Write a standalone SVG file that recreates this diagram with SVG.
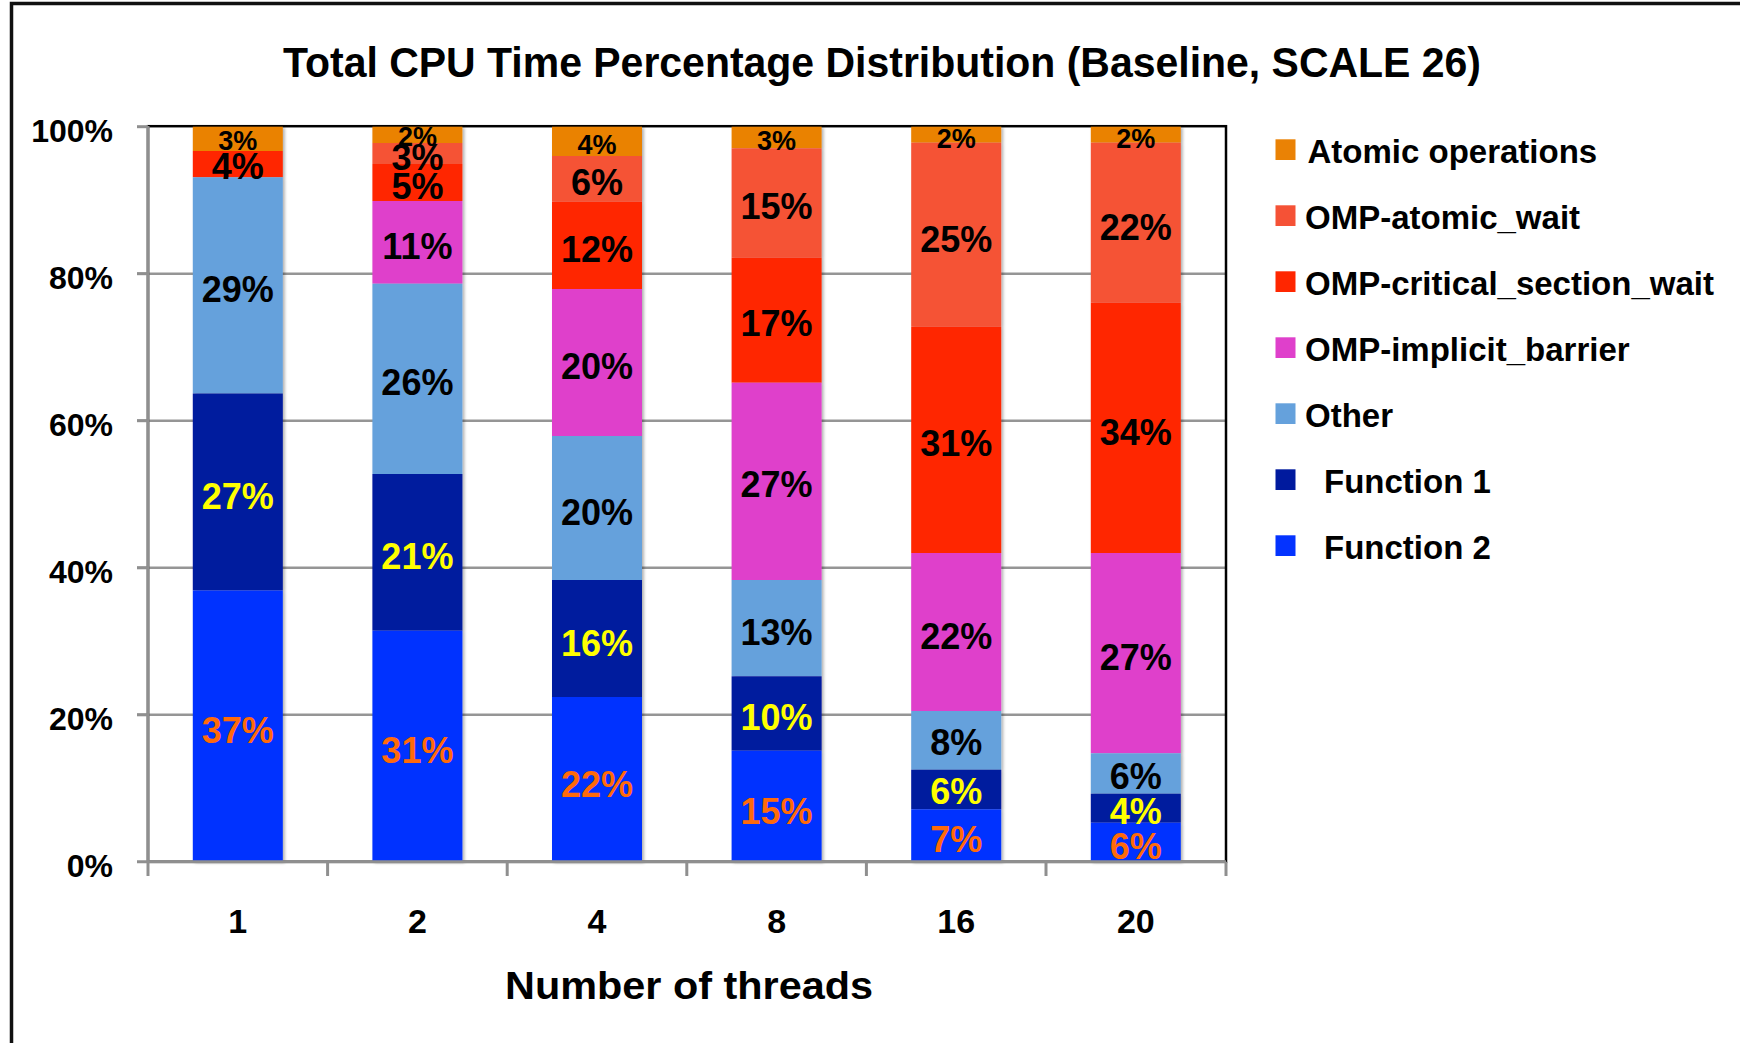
<svg xmlns="http://www.w3.org/2000/svg" width="1740" height="1043" viewBox="0 0 1740 1043">
  <style>
    text { font-family: "Liberation Sans", Arial, sans-serif; font-weight: bold; }
    .grid { stroke: #959595; stroke-width: 2.5; fill: none; }
    .axis { stroke: #8f8f8f; stroke-width: 3; fill: none; }
    .frame { stroke: #000; stroke-width: 2.5; fill: none; }
    .atomic { fill: #EA8205; }
    .aw { fill: #F55236; }
    .crit { fill: #FF2600; }
    .impl { fill: #DF40CB; }
    .other { fill: #65A1DC; }
    .fn1 { fill: #001A9E; }
    .fn2 { fill: #0433FF; }
    .big { font-size: 36px; text-anchor: middle; }
    .small { font-size: 27px; text-anchor: middle; }
    .k { fill: #000; }
    .y { fill: #FFFF00; }
    .o { fill: #FF6A0A; }
    .ytick { font-size: 32px; text-anchor: end; fill: #000; }
    .xtick { font-size: 34px; text-anchor: middle; fill: #000; }
    .leg { font-size: 33px; fill: #000; }
  </style>
  <defs>
    <filter id="barShadow" x="-10%" y="-5%" width="130%" height="110%">
      <feDropShadow dx="2" dy="1" stdDeviation="1.5" flood-color="#000" flood-opacity="0.3"/>
    </filter>
  </defs>

  <rect width="1740" height="1043" fill="#fff"/>

  <!-- chart border (left and top edges) -->
  <path d="M11.5,1043 V3.5 H1740" stroke="#111" stroke-width="3.5" fill="none"/>

  <!-- title -->
  <text id="title" x="882" y="77" font-size="42" text-anchor="middle" textLength="1198" lengthAdjust="spacingAndGlyphs">Total CPU Time Percentage Distribution (Baseline, SCALE 26)</text>

  <!-- gridlines -->
  <g id="gridlines">
    <line class="grid" x1="137" y1="273.7" x2="1226" y2="273.7"/>
    <line class="grid" x1="137" y1="420.7" x2="1226" y2="420.7"/>
    <line class="grid" x1="137" y1="567.8" x2="1226" y2="567.8"/>
    <line class="grid" x1="137" y1="714.8" x2="1226" y2="714.8"/>
  </g>

  <!-- plot area frame -->
  <rect class="frame" x="148" y="126.2" width="1078" height="735.6"/>

  <!-- bars -->
  <g id="bar-1" filter="url(#barShadow)">
    <rect class="atomic" x="192.8" y="126.7" width="90" height="24.3"/>
    <rect class="crit" x="192.8" y="151" width="90" height="26.3"/>
    <rect class="other" x="192.8" y="177.3" width="90" height="216.2"/>
    <rect class="fn1" x="192.8" y="393.5" width="90" height="197"/>
    <rect class="fn2" x="192.8" y="590.5" width="90" height="271.3"/>
  </g>
  <g id="bar-2" filter="url(#barShadow)">
    <rect class="atomic" x="372.4" y="126.7" width="90" height="16.3"/>
    <rect class="aw" x="372.4" y="143" width="90" height="21"/>
    <rect class="crit" x="372.4" y="164" width="90" height="37"/>
    <rect class="impl" x="372.4" y="201" width="90" height="82.7"/>
    <rect class="other" x="372.4" y="283.7" width="90" height="190.3"/>
    <rect class="fn1" x="372.4" y="474" width="90" height="156.7"/>
    <rect class="fn2" x="372.4" y="630.7" width="90" height="231.1"/>
  </g>
  <g id="bar-4" filter="url(#barShadow)">
    <rect class="atomic" x="552" y="126.7" width="90" height="29.3"/>
    <rect class="aw" x="552" y="156" width="90" height="45.7"/>
    <rect class="crit" x="552" y="201.7" width="90" height="87.3"/>
    <rect class="impl" x="552" y="289" width="90" height="147"/>
    <rect class="other" x="552" y="436" width="90" height="144"/>
    <rect class="fn1" x="552" y="580" width="90" height="117"/>
    <rect class="fn2" x="552" y="697" width="90" height="164.8"/>
  </g>
  <g id="bar-8" filter="url(#barShadow)">
    <rect class="atomic" x="731.6" y="126.7" width="90" height="21.6"/>
    <rect class="aw" x="731.6" y="148.3" width="90" height="109.4"/>
    <rect class="crit" x="731.6" y="257.7" width="90" height="125"/>
    <rect class="impl" x="731.6" y="382.7" width="90" height="197.3"/>
    <rect class="other" x="731.6" y="580" width="90" height="96.3"/>
    <rect class="fn1" x="731.6" y="676.3" width="90" height="74.4"/>
    <rect class="fn2" x="731.6" y="750.7" width="90" height="111.1"/>
  </g>
  <g id="bar-16" filter="url(#barShadow)">
    <rect class="atomic" x="911.2" y="126.7" width="90" height="16"/>
    <rect class="aw" x="911.2" y="142.7" width="90" height="184"/>
    <rect class="crit" x="911.2" y="326.7" width="90" height="226.3"/>
    <rect class="impl" x="911.2" y="553" width="90" height="158"/>
    <rect class="other" x="911.2" y="711" width="90" height="58.7"/>
    <rect class="fn1" x="911.2" y="769.7" width="90" height="39.6"/>
    <rect class="fn2" x="911.2" y="809.3" width="90" height="52.5"/>
  </g>
  <g id="bar-20" filter="url(#barShadow)">
    <rect class="atomic" x="1090.8" y="126.7" width="90" height="16"/>
    <rect class="aw" x="1090.8" y="142.7" width="90" height="160"/>
    <rect class="crit" x="1090.8" y="302.7" width="90" height="250.3"/>
    <rect class="impl" x="1090.8" y="553" width="90" height="200.3"/>
    <rect class="other" x="1090.8" y="753.3" width="90" height="40.4"/>
    <rect class="fn1" x="1090.8" y="793.7" width="90" height="29"/>
    <rect class="fn2" x="1090.8" y="822.7" width="90" height="39.1"/>
  </g>

  <!-- value labels -->
  <g id="labels-1">
    <text class="small k" x="237.8" y="150">3%</text>
    <text class="big k" x="237.8" y="179">4%</text>
    <text class="big k" x="237.8" y="301.5">29%</text>
    <text class="big y" x="237.8" y="509">27%</text>
    <text class="big o" x="237.8" y="743">37%</text>
  </g>
  <g id="labels-2">
    <text class="small k" x="417.4" y="146">2%</text>
    <text class="big k" x="417.4" y="170">3%</text>
    <text class="big k" x="417.4" y="199">5%</text>
    <text class="big k" x="417.4" y="259">11%</text>
    <text class="big k" x="417.4" y="395">26%</text>
    <text class="big y" x="417.4" y="569">21%</text>
    <text class="big o" x="417.4" y="763">31%</text>
  </g>
  <g id="labels-4">
    <text class="small k" x="597" y="153.5">4%</text>
    <text class="big k" x="597" y="195">6%</text>
    <text class="big k" x="597" y="262">12%</text>
    <text class="big k" x="597" y="378.5">20%</text>
    <text class="big k" x="597" y="525">20%</text>
    <text class="big y" x="597" y="656">16%</text>
    <text class="big o" x="597" y="796.5">22%</text>
  </g>
  <g id="labels-8">
    <text class="small k" x="776.6" y="149.5">3%</text>
    <text class="big k" x="776.6" y="219">15%</text>
    <text class="big k" x="776.6" y="336">17%</text>
    <text class="big k" x="776.6" y="496.5">27%</text>
    <text class="big k" x="776.6" y="645">13%</text>
    <text class="big y" x="776.6" y="729.5">10%</text>
    <text class="big o" x="776.6" y="823.5">15%</text>
  </g>
  <g id="labels-16">
    <text class="small k" x="956.2" y="147.5">2%</text>
    <text class="big k" x="956.2" y="252">25%</text>
    <text class="big k" x="956.2" y="456">31%</text>
    <text class="big k" x="956.2" y="648.5">22%</text>
    <text class="big k" x="956.2" y="755">8%</text>
    <text class="big y" x="956.2" y="804">6%</text>
    <text class="big o" x="956.2" y="851.5">7%</text>
  </g>
  <g id="labels-20">
    <text class="small k" x="1135.8" y="147.5">2%</text>
    <text class="big k" x="1135.8" y="239.5">22%</text>
    <text class="big k" x="1135.8" y="445">34%</text>
    <text class="big k" x="1135.8" y="669.5">27%</text>
    <text class="big k" x="1135.8" y="788.5">6%</text>
    <text class="big y" x="1135.8" y="823.5">4%</text>
    <text class="big o" x="1135.8" y="858.5">6%</text>
  </g>

  <!-- axes and tick marks -->
  <g id="axes">
    <line class="axis" x1="148" y1="126" x2="148" y2="876"/>
    <line class="axis" x1="137" y1="861.8" x2="1226" y2="861.8"/>
    <line class="axis" x1="137" y1="126.7" x2="148" y2="126.7"/>
    <line class="axis" x1="137" y1="273.7" x2="148" y2="273.7"/>
    <line class="axis" x1="137" y1="420.7" x2="148" y2="420.7"/>
    <line class="axis" x1="137" y1="567.8" x2="148" y2="567.8"/>
    <line class="axis" x1="137" y1="714.8" x2="148" y2="714.8"/>
    <line class="axis" x1="327.6" y1="861.8" x2="327.6" y2="876"/>
    <line class="axis" x1="507.2" y1="861.8" x2="507.2" y2="876"/>
    <line class="axis" x1="686.8" y1="861.8" x2="686.8" y2="876"/>
    <line class="axis" x1="866.4" y1="861.8" x2="866.4" y2="876"/>
    <line class="axis" x1="1046" y1="861.8" x2="1046" y2="876"/>
    <line class="axis" x1="1226" y1="861.8" x2="1226" y2="876"/>
  </g>

  <!-- y axis labels -->
  <g id="y-axis-labels">
    <text class="ytick" x="113" y="141.7">100%</text>
    <text class="ytick" x="113" y="288.7">80%</text>
    <text class="ytick" x="113" y="435.7">60%</text>
    <text class="ytick" x="113" y="582.8">40%</text>
    <text class="ytick" x="113" y="729.8">20%</text>
    <text class="ytick" x="113" y="876.8">0%</text>
  </g>

  <!-- x axis labels -->
  <g id="x-axis-labels">
    <text class="xtick" x="237.8" y="932.5">1</text>
    <text class="xtick" x="417.4" y="932.5">2</text>
    <text class="xtick" x="597" y="932.5">4</text>
    <text class="xtick" x="776.6" y="932.5">8</text>
    <text class="xtick" x="956.2" y="932.5">16</text>
    <text class="xtick" x="1135.8" y="932.5">20</text>
  </g>
  <text id="x-axis-title" x="689" y="999" font-size="39" text-anchor="middle" textLength="368" lengthAdjust="spacingAndGlyphs">Number of threads</text>

  <!-- legend -->
  <g id="legend">
    <g id="legend-atomic"><rect class="atomic" x="1275.5" y="139.3" width="20" height="20.7"/><text class="leg" x="1307.5" y="163.3">Atomic operations</text></g>
    <g id="legend-aw"><rect class="aw" x="1275.5" y="205.3" width="20" height="20.7"/><text class="leg" x="1305" y="229.3">OMP-atomic_wait</text></g>
    <g id="legend-crit"><rect class="crit" x="1275.5" y="271.3" width="20" height="20.7"/><text class="leg" x="1305" y="295.3">OMP-critical_section_wait</text></g>
    <g id="legend-impl"><rect class="impl" x="1275.5" y="337.3" width="20" height="20.7"/><text class="leg" x="1305" y="361.3">OMP-implicit_barrier</text></g>
    <g id="legend-other"><rect class="other" x="1275.5" y="403.3" width="20" height="20.7"/><text class="leg" x="1305" y="427.3">Other</text></g>
    <g id="legend-fn1"><rect class="fn1" x="1275.5" y="469.3" width="20" height="20.7"/><text class="leg" x="1324" y="493.3">Function 1</text></g>
    <g id="legend-fn2"><rect class="fn2" x="1275.5" y="535.3" width="20" height="20.7"/><text class="leg" x="1324" y="559.3">Function 2</text></g>
  </g>
</svg>
